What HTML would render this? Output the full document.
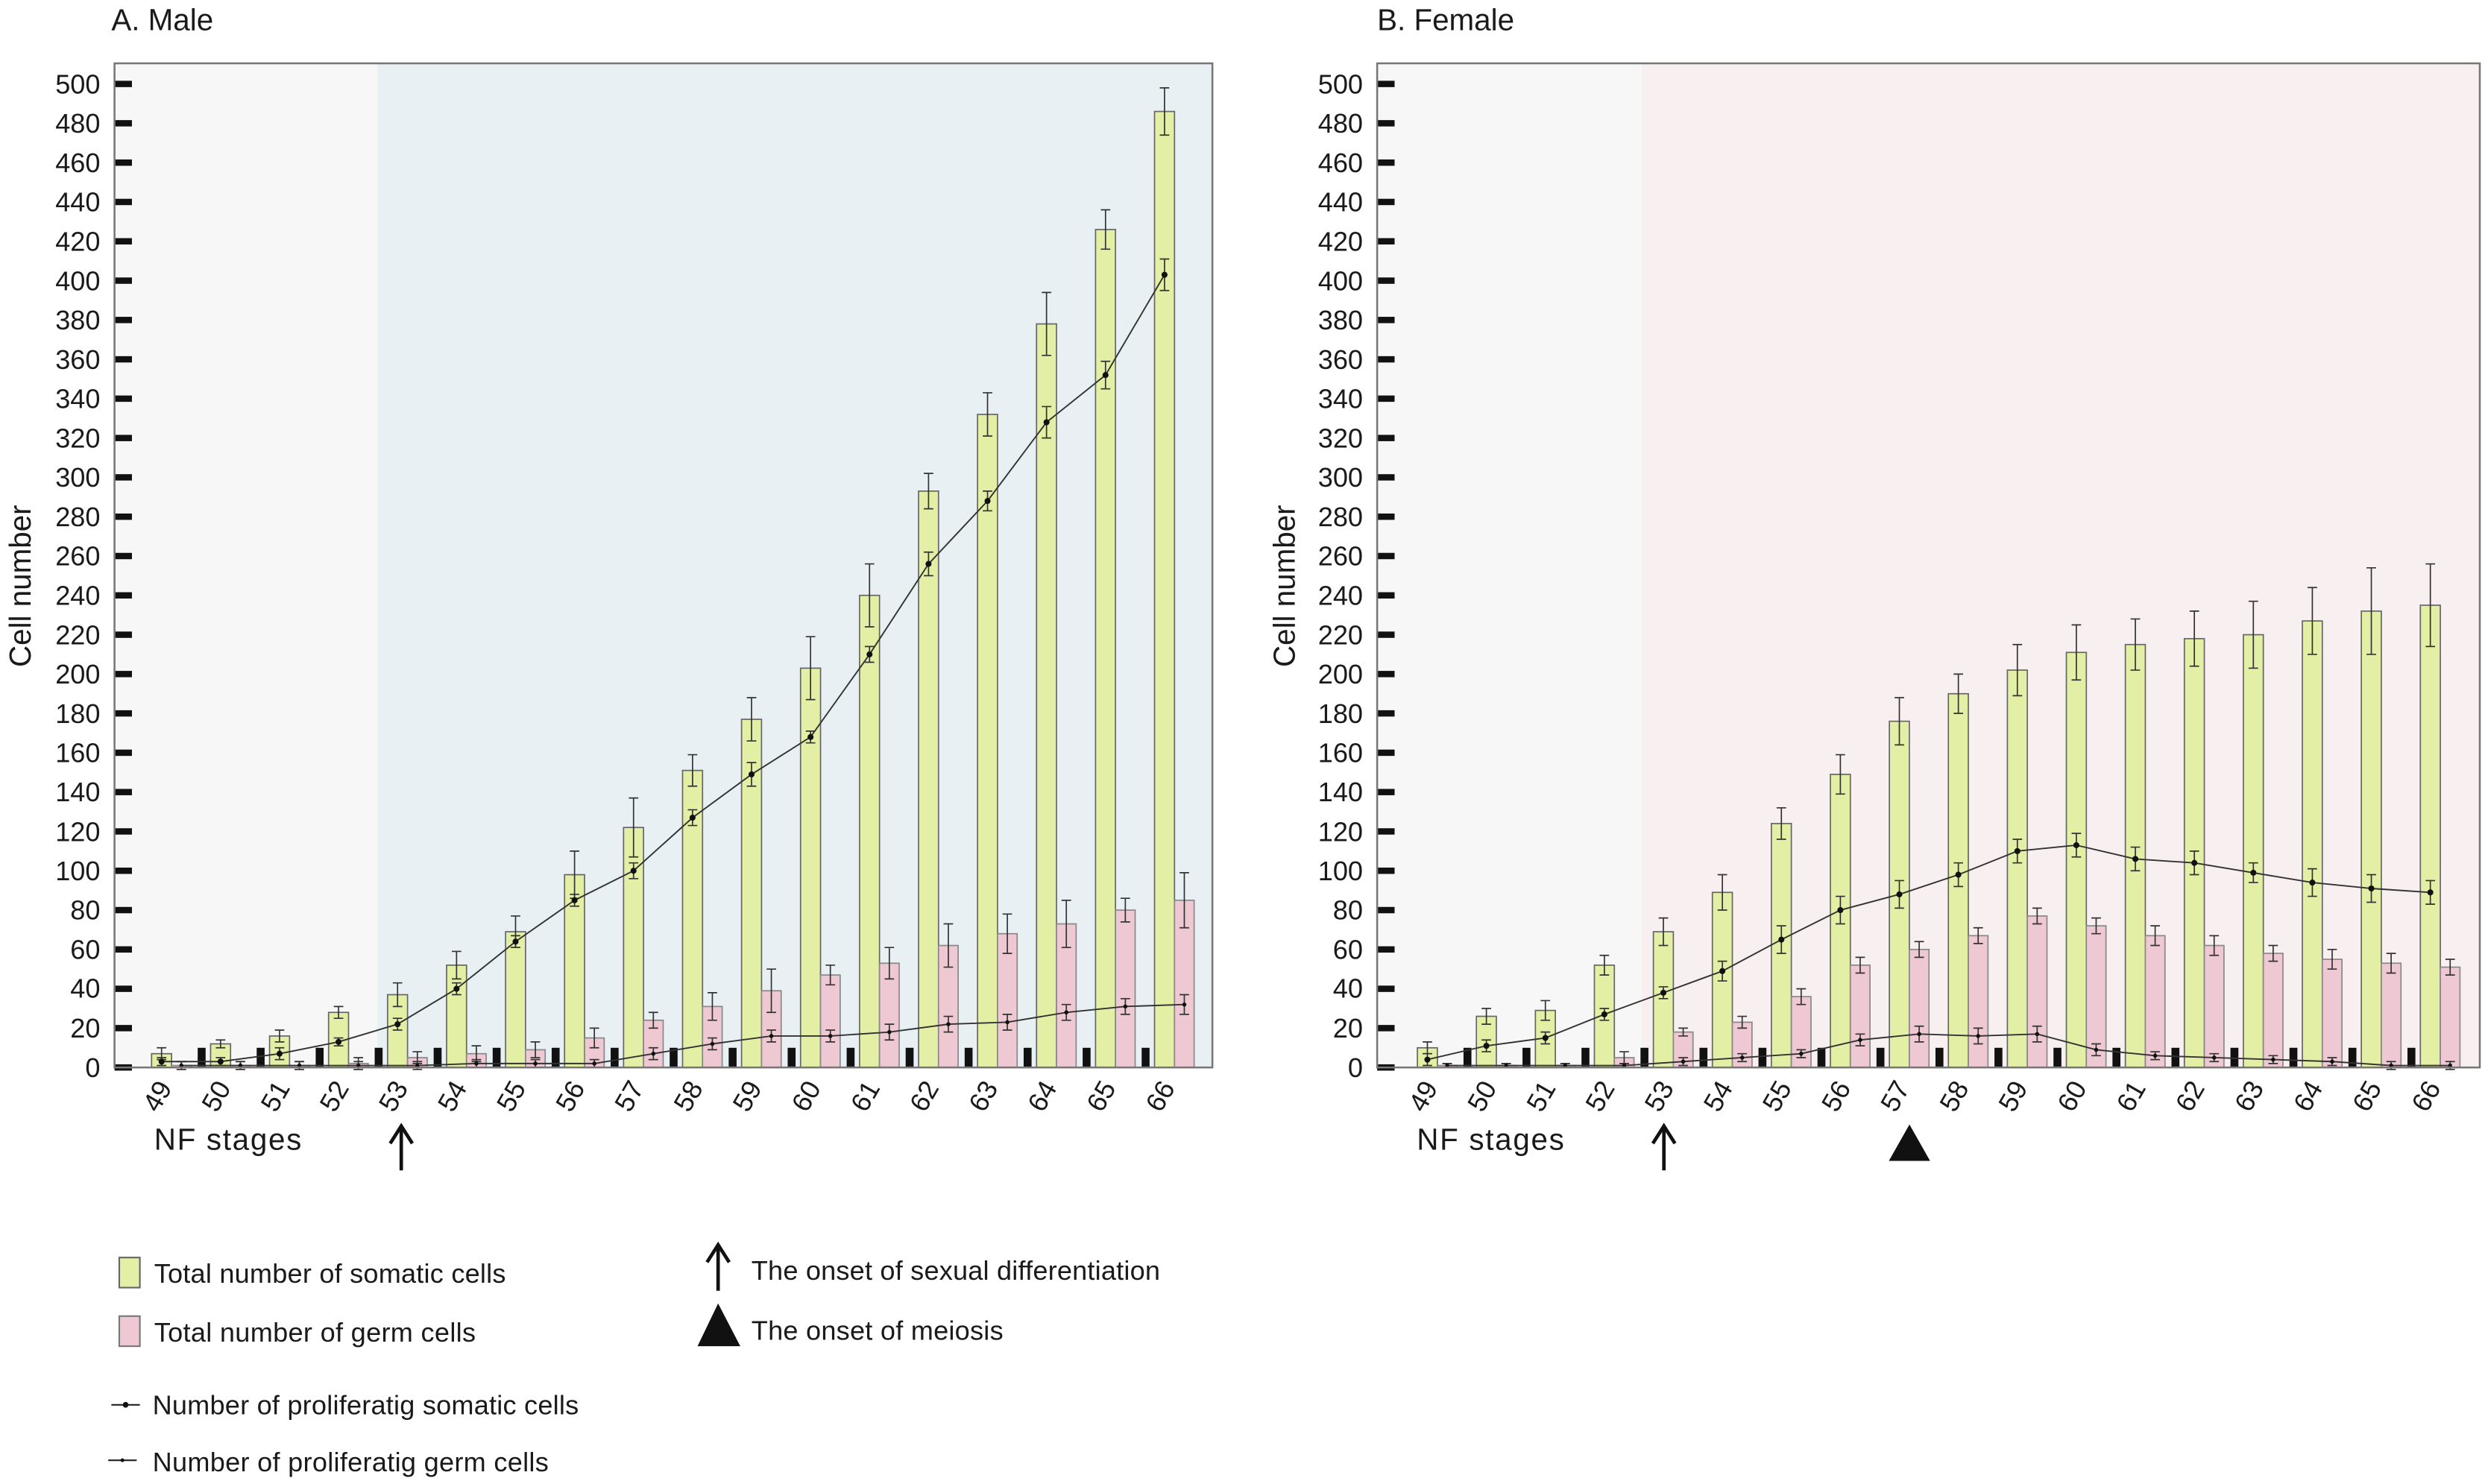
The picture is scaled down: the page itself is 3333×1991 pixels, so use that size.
<!DOCTYPE html>
<html><head><meta charset="utf-8"><style>
html,body{margin:0;padding:0;background:#fff}
svg{display:block}
text{font-family:"Liberation Sans",Arial,sans-serif;fill:#1a1a1a}
.t{font-size:17px;text-anchor:end}
.c{font-size:17px;text-anchor:middle}
.l{font-size:17px}
</style></head><body>
<svg id="s" width="3333" height="1991" viewBox="0 0 1568 937" xmlns="http://www.w3.org/2000/svg">
<rect x="72" y="40" width="693" height="634" fill="#f7f7f7" stroke="none"/>
<rect x="238" y="40" width="527" height="634" fill="#e8f0f4"/>
<rect x="869" y="40" width="696" height="634" fill="#f7f7f7"/>
<rect x="1036" y="40" width="529" height="634" fill="#f8eff0"/>
<g id="data"></g>
<rect x="72" y="40" width="693" height="634" fill="none" stroke="#777" stroke-width="1.2"/>
<rect x="869" y="40" width="696" height="634" fill="none" stroke="#777" stroke-width="1.2"/>
<text x="70" y="19" style="font-size:19px">A. Male</text>
<text x="869" y="19" style="font-size:19px">B. Female</text>
<text transform="translate(19,370) rotate(-90)" style="font-size:19px;text-anchor:middle">Cell number</text>
<text transform="translate(817,370) rotate(-90)" style="font-size:19px;text-anchor:middle">Cell number</text>
<g class="t">
<text class="t" x="63" y="680">0</text><text class="t" x="63" y="655">20</text><text class="t" x="63" y="630">40</text><text class="t" x="63" y="605.5">60</text><text class="t" x="63" y="580.6">80</text><text class="t" x="63" y="555.8">100</text><text class="t" x="63" y="531">120</text><text class="t" x="63" y="506">140</text><text class="t" x="63" y="481.3">160</text><text class="t" x="63" y="456.4">180</text><text class="t" x="63" y="431.6">200</text><text class="t" x="63" y="406.8">220</text><text class="t" x="63" y="382">240</text><text class="t" x="63" y="357">260</text><text class="t" x="63" y="332.2">280</text><text class="t" x="63" y="307.4">300</text><text class="t" x="63" y="282.6">320</text><text class="t" x="63" y="257.7">340</text><text class="t" x="63" y="233">360</text><text class="t" x="63" y="208">380</text><text class="t" x="63" y="183.2">400</text><text class="t" x="63" y="158.4">420</text><text class="t" x="63" y="133.5">440</text><text class="t" x="63" y="108.7">460</text><text class="t" x="63" y="83.8">480</text><text class="t" x="63" y="59">500</text>
</g>
<g transform="translate(797,0)">
<text class="t" x="63" y="680">0</text><text class="t" x="63" y="655">20</text><text class="t" x="63" y="630">40</text><text class="t" x="63" y="605.5">60</text><text class="t" x="63" y="580.6">80</text><text class="t" x="63" y="555.8">100</text><text class="t" x="63" y="531">120</text><text class="t" x="63" y="506">140</text><text class="t" x="63" y="481.3">160</text><text class="t" x="63" y="456.4">180</text><text class="t" x="63" y="431.6">200</text><text class="t" x="63" y="406.8">220</text><text class="t" x="63" y="382">240</text><text class="t" x="63" y="357">260</text><text class="t" x="63" y="332.2">280</text><text class="t" x="63" y="307.4">300</text><text class="t" x="63" y="282.6">320</text><text class="t" x="63" y="257.7">340</text><text class="t" x="63" y="233">360</text><text class="t" x="63" y="208">380</text><text class="t" x="63" y="183.2">400</text><text class="t" x="63" y="158.4">420</text><text class="t" x="63" y="133.5">440</text><text class="t" x="63" y="108.7">460</text><text class="t" x="63" y="83.8">480</text><text class="t" x="63" y="59">500</text>
</g>
<g id="cats">
<text class="c" transform="translate(104,695) rotate(-60)">49</text><text class="c" transform="translate(141.2,695) rotate(-60)">50</text><text class="c" transform="translate(178.5,695) rotate(-60)">51</text><text class="c" transform="translate(215.7,695) rotate(-60)">52</text><text class="c" transform="translate(253,695) rotate(-60)">53</text><text class="c" transform="translate(290.2,695) rotate(-60)">54</text><text class="c" transform="translate(327.4,695) rotate(-60)">55</text><text class="c" transform="translate(364.7,695) rotate(-60)">56</text><text class="c" transform="translate(401.9,695) rotate(-60)">57</text><text class="c" transform="translate(439.2,695) rotate(-60)">58</text><text class="c" transform="translate(476.4,695) rotate(-60)">59</text><text class="c" transform="translate(513.6,695) rotate(-60)">60</text><text class="c" transform="translate(550.9,695) rotate(-60)">61</text><text class="c" transform="translate(588.1,695) rotate(-60)">62</text><text class="c" transform="translate(625.4,695) rotate(-60)">63</text><text class="c" transform="translate(662.6,695) rotate(-60)">64</text><text class="c" transform="translate(699.8,695) rotate(-60)">65</text><text class="c" transform="translate(737.1,695) rotate(-60)">66</text>
</g>
<g transform="translate(799,0)">
<text class="c" transform="translate(104,695) rotate(-60)">49</text><text class="c" transform="translate(141.2,695) rotate(-60)">50</text><text class="c" transform="translate(178.5,695) rotate(-60)">51</text><text class="c" transform="translate(215.7,695) rotate(-60)">52</text><text class="c" transform="translate(253,695) rotate(-60)">53</text><text class="c" transform="translate(290.2,695) rotate(-60)">54</text><text class="c" transform="translate(327.4,695) rotate(-60)">55</text><text class="c" transform="translate(364.7,695) rotate(-60)">56</text><text class="c" transform="translate(401.9,695) rotate(-60)">57</text><text class="c" transform="translate(439.2,695) rotate(-60)">58</text><text class="c" transform="translate(476.4,695) rotate(-60)">59</text><text class="c" transform="translate(513.6,695) rotate(-60)">60</text><text class="c" transform="translate(550.9,695) rotate(-60)">61</text><text class="c" transform="translate(588.1,695) rotate(-60)">62</text><text class="c" transform="translate(625.4,695) rotate(-60)">63</text><text class="c" transform="translate(662.6,695) rotate(-60)">64</text><text class="c" transform="translate(699.8,695) rotate(-60)">65</text><text class="c" transform="translate(737.1,695) rotate(-60)">66</text>
</g>
<text x="97" y="726" style="font-size:19px" textLength="93">NF stages</text>
<text x="894" y="726" style="font-size:19px" textLength="93">NF stages</text>
<g stroke="#111" stroke-width="2.2" fill="none">
<path d="M253 739 V712 M246 722 L253 711 L260 722"/>
<path d="M1050 739 V712 M1043 722 L1050 711 L1057 722"/>
<path d="M453 815 V787 M446 797 L453 786 L460 797"/>
</g>
<path d="M1192 733 L1205 710 L1218 733 Z" fill="#111"/>
<path d="M440 850 L453 823 L467 850 Z" fill="#111"/>
<rect x="75" y="794" width="13" height="19" fill="#e4efa6" stroke="#666"/>
<rect x="75" y="831" width="13" height="19" fill="#eec8d3" stroke="#777"/>
<g stroke="#222" stroke-width="1"><path d="M70 887 H88"/><path d="M68 922 H86"/></g>
<circle cx="79" cy="887" r="1.8" fill="#111"/><circle cx="77" cy="922" r="1.2" fill="#111"/>
<text class="l" x="97" y="810" textLength="222">Total number of somatic cells</text>
<text class="l" x="97" y="847" textLength="203">Total number of germ cells</text>
<text class="l" x="96" y="893" textLength="269">Number of proliferatig somatic cells</text>
<text class="l" x="96" y="929" textLength="250">Number of proliferatig germ cells</text>
<text class="l" x="474" y="808" textLength="258">The onset of sexual differentiation</text>
<text class="l" x="474" y="846" textLength="159">The onset of meiosis</text>
</svg>
<script>
(function(){
var NS="http://www.w3.org/2000/svg",g=document.getElementById("data");
function el(n,a){var e=document.createElementNS(NS,n);for(var k in a)e.setAttribute(k,a[k]);g.appendChild(e);return e;}
function Y(v){return 674-v*1.242;}
var S=37.24;
var A={gr:[7,12,16,28,37,52,69,98,122,151,177,203,240,293,332,378,426,486],ge:[3,2,3,3,6,7,8,12,15,8,11,16,16,9,11,16,10,12],
pk:[1,1,1,2,5,7,9,15,24,31,39,47,53,62,68,73,80,85],pe:[2,2,2,3,3,4,4,5,4,7,11,5,8,11,10,12,6,14],
ls:[3,3,7,13,22,40,64,85,100,127,149,168,210,256,288,328,352,403],lse:[2,2,3,2,3,3,3,3,4,4,6,3,4,6,5,8,7,8],
lg:[1,1,1,1,1,2,2,2,7,12,16,16,18,22,23,28,31,32],lge:[2,2,2,2,2,2,2,2,3,3,3,3,4,4,4,4,4,5]};
var B={gr:[10,26,29,52,69,89,124,149,176,190,202,211,215,218,220,227,232,235],ge:[3,4,5,5,7,9,8,10,12,10,13,14,13,14,17,17,22,21],
pk:[1,1,1,5,18,23,36,52,60,67,77,72,67,62,58,55,53,51],pe:[1,1,1,3,2,3,4,4,4,4,4,4,5,5,4,5,5,4],
ls:[4,11,15,27,38,49,65,80,88,98,110,113,106,104,99,94,91,89],lse:[3,3,3,3,3,5,7,7,7,6,6,6,6,6,5,7,7,6],
lg:[1,1,1,1,3,5,7,14,17,16,17,9,6,5,4,3,1,1],lge:[1,1,1,1,2,2,2,3,4,4,4,3,2,2,2,2,2,2]};
function err(x,v,e){el("path",{d:"M"+x+" "+Y(v+e)+"V"+Y(v-e)+"M"+(x-3)+" "+Y(v+e)+"h6M"+(x-3)+" "+Y(v-e)+"h6",stroke:"#333","stroke-width":"0.8",fill:"none"});}
function panel(D,off,toff){
 for(var v=0;v<=500;v+=20)el("rect",{x:72+toff,y:Y(v)-2,width:11,height:4,fill:"#111"});
 var ps=[],pg=[];
 for(var i=0;i<18;i++){
  var gx=95.4+S*i+off,px=108+S*i+off,bx=124.5+S*i+off;
  el("rect",{x:gx,y:Y(D.gr[i]),width:12.6,height:D.gr[i]*1.242,fill:"#e4efa6",stroke:"#666","stroke-width":"0.8"});
  el("rect",{x:px,y:Y(D.pk[i]),width:12.4,height:D.pk[i]*1.242,fill:"#eec8d3",stroke:"#888","stroke-width":"0.8"});
  if(i<17)el("rect",{x:bx,y:Y(10),width:5,height:10*1.242,fill:"#111"});
  err(gx+6.3,D.gr[i],D.ge[i]);err(px+6.2,D.pk[i],D.pe[i]);
  ps.push((gx+6.3)+","+Y(D.ls[i]));pg.push((px+6.2)+","+Y(D.lg[i]));
 }
 el("polyline",{points:ps.join(" "),fill:"none",stroke:"#333","stroke-width":"0.9"});
 el("polyline",{points:pg.join(" "),fill:"none",stroke:"#333","stroke-width":"0.9"});
 for(var i=0;i<18;i++){
  var gx=95.4+S*i+off+6.3,px=108+S*i+off+6.2;
  err(gx,D.ls[i],D.lse[i]);err(px,D.lg[i],D.lge[i]);
  el("circle",{cx:gx,cy:Y(D.ls[i]),r:1.9,fill:"#111"});
  el("circle",{cx:px,cy:Y(D.lg[i]),r:1.3,fill:"#111"});
 }
}
panel(A,0,0);panel(B,799,797);
})();
</script>
</body></html>
